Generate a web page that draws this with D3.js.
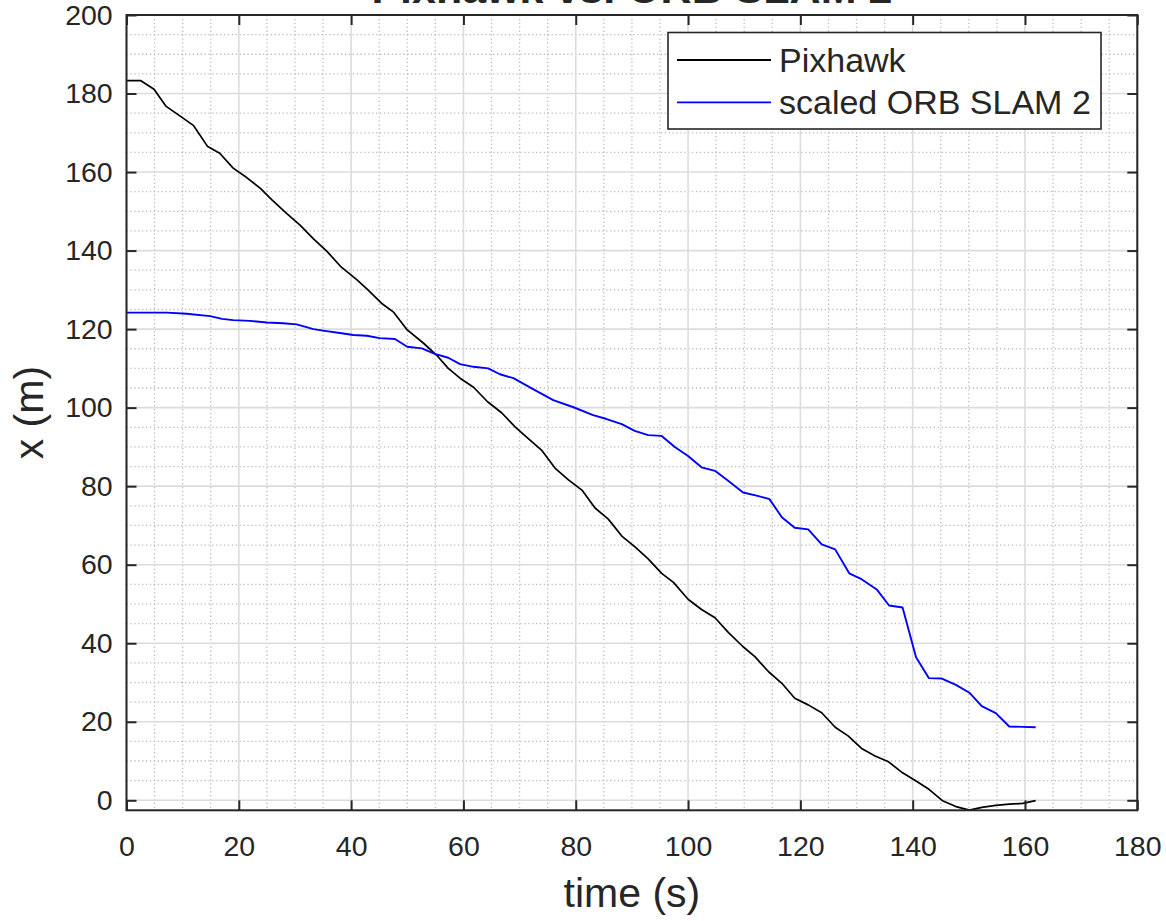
<!DOCTYPE html>
<html>
<head>
<meta charset="utf-8">
<script src="https://cdn.jsdelivr.net/npm/d3@7"></script>
<style>
  body { margin: 0; background: #fff; }
  text { font-family: "Liberation Sans", Arial, Helvetica, sans-serif; fill: #262626; }
</style>
</head>
<body>
<div id="chart"></div>
<script>
// time axis (s) and x position (m)
const pixTime = [0, 2.5, 4.9, 7.0, 9.5, 11.9, 14.4, 16.6, 19.0, 21.4, 23.8, 25.9, 28.5, 30.9, 33.3, 35.7, 38.1, 41.0,
  43.0, 45.4, 47.5, 50.0, 52.9, 55.2, 57.3, 59.4, 61.8, 64.3, 66.8, 69.2, 71.5, 73.9, 76.3, 78.7, 81.1, 83.4, 85.8,
  88.2, 90.5, 92.9, 95.3, 97.4, 100.0, 102.4, 104.8, 107.2, 109.8, 111.9, 114.3, 116.7, 119.0, 121.4, 123.8, 126.2,
  128.5, 130.9, 133.3, 135.7, 138.2, 140.6, 142.9, 145.3, 147.7, 150.1, 152.3, 154.8, 157.2, 159.6, 161.9];
const pixX = [183.3, 183.3, 181.1, 176.8, 174.3, 171.9, 166.6, 164.8, 161.0, 158.6, 155.9, 152.9, 149.5, 146.5, 143.0,
  139.8, 136.0, 132.6, 130.0, 126.6, 124.4, 119.8, 116.4, 113.4, 110.0, 107.5, 105.2, 101.5, 98.7, 95.1, 92.2, 89.2,
  84.6, 81.6, 79.0, 74.5, 71.6, 67.3, 64.6, 61.5, 57.8, 55.5, 51.2, 48.6, 46.5, 42.7, 39.1, 36.6, 32.8, 29.8, 26.0,
  24.3, 22.3, 18.6, 16.4, 13.2, 11.3, 9.8, 7.0, 4.9, 2.8, -0.1, -1.6, -2.5, -1.8, -1.3, -1.0, -0.8, -0.1];

const orbTime = [0, 7.2, 10.7, 14.9, 17.0, 19.0, 22.0, 25.0, 27.9, 30.3, 33.3, 35.6, 38.0, 40.4, 42.8, 45.1, 47.8,
  50.0, 52.6, 54.9, 57.3, 59.4, 61.8, 64.4, 66.5, 68.9, 72.4, 76.0, 79.6, 83.1, 85.5, 88.2, 90.5, 92.9, 95.3, 97.7,
  100.0, 102.4, 104.8, 107.2, 109.8, 112.2, 114.5, 116.7, 119.0, 121.4, 123.8, 126.2, 128.7, 130.9, 133.6, 135.8,
  138.2, 140.6, 142.9, 145.2, 147.7, 150.1, 152.3, 154.8, 157.2, 159.6, 161.9];
const orbX = [124.2, 124.2, 123.9, 123.3, 122.6, 122.3, 122.1, 121.7, 121.5, 121.2, 120.0, 119.5, 119.0, 118.5,
  118.3, 117.7, 117.5, 115.5, 115.1, 113.7, 112.7, 111.1, 110.4, 110.0, 108.5, 107.5, 104.7, 101.9, 100.1, 98.1,
  97.1, 95.8, 94.1, 93.0, 92.8, 89.9, 87.7, 84.8, 83.9, 81.3, 78.4, 77.6, 76.7, 72.1, 69.4, 69.0, 65.2, 63.9, 57.8,
  56.3, 53.7, 49.6, 49.1, 36.4, 31.1, 31.0, 29.4, 27.4, 24.0, 22.2, 18.8, 18.7, 18.6];

const xTicks = [0, 20, 40, 60, 80, 100, 120, 140, 160, 180];
const yTicks = [0, 20, 40, 60, 80, 100, 120, 140, 160, 180, 200];
const seriesNames = ["Pixhawk", "scaled ORB SLAM 2"];
const seriesColors = ["#000000", "#0000ff"];

const W = 1166, H = 921;
const margin = { top: 15, right: 28.7, bottom: 110.7, left: 126.5 };
const width = W - margin.left - margin.right;
const height = H - margin.top - margin.bottom;

const svg = d3.select("#chart").append("svg")
  .attr("width", W)
  .attr("height", H);

const g = svg.append("g")
  .attr("transform", `translate(${margin.left},${margin.top})`);

const x = d3.scaleLinear().domain([0, 180]).range([0, width]);
const y = d3.scaleLinear().domain([-2.55, 200]).range([height, 0]);

// minor grid (dotted)
const xMinor = d3.range(0, 181, 5).filter(v => v % 20 !== 0);
const yMinor = d3.range(0, 201, 5).filter(v => v % 20 !== 0);

g.append("g").selectAll("line")
  .data(xMinor)
  .enter().append("line")
  .attr("x1", d => x(d)).attr("x2", d => x(d))
  .attr("y1", 0).attr("y2", height)
  .attr("stroke", "#bcbcbc").attr("stroke-width", 1.3)
  .attr("stroke-dasharray", "1.3,2.6");

g.append("g").selectAll("line")
  .data(yMinor)
  .enter().append("line")
  .attr("x1", 0).attr("x2", width)
  .attr("y1", d => y(d)).attr("y2", d => y(d))
  .attr("stroke", "#bcbcbc").attr("stroke-width", 1.3)
  .attr("stroke-dasharray", "1.3,2.6");

// major grid
g.append("g").selectAll("line")
  .data(xTicks)
  .enter().append("line")
  .attr("x1", d => x(d)).attr("x2", d => x(d))
  .attr("y1", 0).attr("y2", height)
  .attr("stroke", "#dcdcdc").attr("stroke-width", 1.6);

g.append("g").selectAll("line")
  .data(yTicks)
  .enter().append("line")
  .attr("x1", 0).attr("x2", width)
  .attr("y1", d => y(d)).attr("y2", d => y(d))
  .attr("stroke", "#dcdcdc").attr("stroke-width", 1.6);

// data lines
const pixData = pixTime.map((t, i) => ({ t: t, v: pixX[i] }));
const orbData = orbTime.map((t, i) => ({ t: t, v: orbX[i] }));

const line = d3.line()
  .x(d => x(d.t))
  .y(d => y(d.v));

g.append("path")
  .datum(pixData)
  .attr("fill", "none")
  .attr("stroke", seriesColors[0])
  .attr("stroke-width", 1.7)
  .attr("stroke-linejoin", "round")
  .attr("d", line);

g.append("path")
  .datum(orbData)
  .attr("fill", "none")
  .attr("stroke", seriesColors[1])
  .attr("stroke-width", 1.9)
  .attr("stroke-linejoin", "round")
  .attr("d", line);

// axes
const xAxis = d3.axisBottom(x).tickValues(xTicks).tickSize(-10).tickPadding(25.2);
const yAxis = d3.axisLeft(y).tickValues(yTicks).tickSize(-10).tickPadding(13.8);

const gx = g.append("g")
  .attr("transform", `translate(0,${height})`)
  .call(xAxis);
const gy = g.append("g").call(yAxis);
const gxTop = g.append("g").call(d3.axisTop(x).tickValues(xTicks).tickSize(-10).tickFormat(""));
const gyRight = g.append("g")
  .attr("transform", `translate(${width},0)`)
  .call(d3.axisRight(y).tickValues(yTicks).tickSize(-10).tickFormat(""));

[gx, gy, gxTop, gyRight].forEach(a => {
  a.select(".domain").remove();
  a.selectAll(".tick line").attr("stroke", "#262626").attr("stroke-width", 2);
  a.selectAll("text")
    .style("font-family", "\"Liberation Sans\", Arial, Helvetica, sans-serif")
    .style("font-size", "28.5px")
    .attr("fill", "#262626");
});

// box
g.append("rect")
  .attr("x", 0).attr("y", 0)
  .attr("width", width).attr("height", height)
  .attr("fill", "none")
  .attr("stroke", "#262626")
  .attr("stroke-width", 2);

// axis labels
svg.append("text")
  .attr("x", margin.left + width / 2)
  .attr("y", 906.5)
  .attr("text-anchor", "middle")
  .style("font-size", "41px")
  .text("time (s)");

svg.append("text")
  .attr("transform", `translate(43,${margin.top + height / 2}) rotate(-90)`)
  .attr("text-anchor", "middle")
  .style("font-size", "41px")
  .text("x (m)");

// title (mostly outside the picture)
svg.append("text")
  .attr("x", margin.left + width / 2)
  .attr("y", 3)
  .attr("text-anchor", "middle")
  .style("font-size", "43px")
  .style("font-weight", "bold")
  .text("Pixhawk vs. ORB SLAM 2");

// legend
const legend = svg.append("g");
legend.append("rect")
  .attr("x", 668).attr("y", 32.5)
  .attr("width", 433).attr("height", 96.5)
  .attr("fill", "#fff")
  .attr("stroke", "#262626")
  .attr("stroke-width", 1.6);

const legendRows = legend.selectAll("g.row")
  .data(seriesNames)
  .enter().append("g")
  .attr("class", "row")
  .attr("transform", (d, i) => `translate(0,${60 + i * 42.3})`);

legendRows.append("line")
  .attr("x1", 677).attr("x2", 771)
  .attr("y1", 0).attr("y2", 0)
  .attr("stroke", (d, i) => seriesColors[i])
  .attr("stroke-width", 1.8);

legendRows.append("text")
  .attr("x", 779)
  .attr("y", 11.7)
  .style("font-size", "34px")
  .attr("fill", "#000")
  .text(d => d);
</script>
</body>
</html>
